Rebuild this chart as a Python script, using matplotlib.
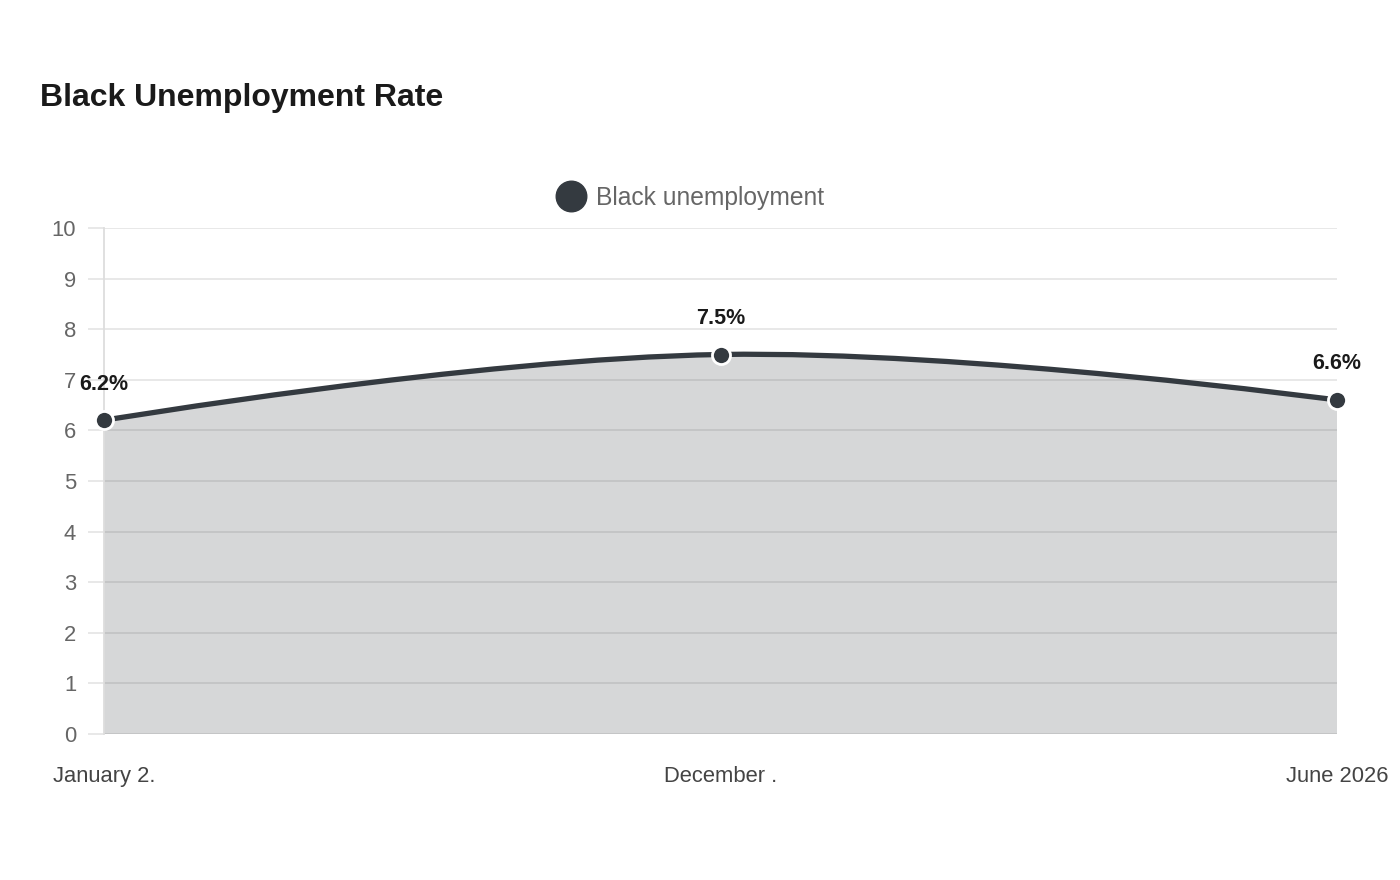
import matplotlib
matplotlib.use("Agg")
import matplotlib.pyplot as plt
from matplotlib.path import Path
from matplotlib.patches import PathPatch
from matplotlib.lines import Line2D

plt.rcParams["font.family"] = ["Liberation Sans", "DejaVu Sans"]

categories = ["January 2.", "December .", "June 2026"]
rates = [6.2, 7.5, 6.6]
series_name = "Black unemployment"
yticks = list(range(0, 11))

line_c = "#343a40"
grid_c = "#e6e6e6"
tick_c = "#666666"

fig = plt.figure(figsize=(14, 8.8), dpi=100)
ax = fig.add_axes([104 / 1400, 1 - 734 / 880, 1233 / 1400, 506 / 880])

xs = list(range(len(rates)))

# bezier curve like chart.js (tension 0.4)
tension = 0.4
verts = [(xs[0], rates[0])]
codes = [Path.MOVETO]
ctrl = []
for i in range(len(xs)):
    p = max(i - 1, 0)
    n = min(i + 1, len(xs) - 1)
    dx = xs[n] - xs[p]
    dy = rates[n] - rates[p]
    f = tension * 0.5 if 0 < i < len(xs) - 1 else 0
    ctrl.append(((xs[i] - f * dx, rates[i] - f * dy), (xs[i] + f * dx, rates[i] + f * dy)))
for i in range(1, len(xs)):
    verts += [ctrl[i - 1][1], ctrl[i][0], (xs[i], rates[i])]
    codes += [Path.CURVE4] * 3

curve = Path(verts, codes)
fill_path = Path(verts + [(xs[-1], 0), (xs[0], 0), (xs[0], rates[0])],
                 codes + [Path.LINETO, Path.LINETO, Path.CLOSEPOLY])
ax.add_patch(PathPatch(fill_path, facecolor=line_c, alpha=0.2, edgecolor="none", zorder=2))
ax.add_patch(PathPatch(curve, facecolor="none", edgecolor=line_c, lw=3.8,
                       capstyle="round", joinstyle="round", zorder=3))
ax.plot(xs, rates, "o", ms=13, mfc=line_c, mec="white", mew=2, zorder=4, clip_on=False)

for x, v in zip(xs, rates):
    ax.annotate(f"{v}%", (x, v), xytext=(0, 26), textcoords="offset points",
                ha="center", va="center", fontsize=15.5, fontweight="bold",
                color="#1a1a1a", annotation_clip=False)

ax.set_xlim(xs[0], xs[-1])
ax.set_ylim(0, 10)
ax.set_yticks(yticks)
ax.set_xticks(xs)
ax.set_xticklabels(categories)
ax.grid(axis="y", color=grid_c, lw=1.3, zorder=1)
ax.set_axisbelow(True)
for s in ["top", "right", "bottom"]:
    ax.spines[s].set_visible(False)
ax.spines["left"].set_color("#dddddd")
ax.spines["left"].set_linewidth(1.3)
ax.tick_params(axis="y", length=11.5, width=1.3, color=grid_c, pad=8.5,
               labelsize=15.8, labelcolor=tick_c)
ax.tick_params(axis="x", length=0, pad=23, labelsize=15.8, labelcolor="#444444")

fig.text(40 / 1400, 1 - 98 / 880, "Black Unemployment Rate", fontsize=23,
         fontweight="bold", color="#1a1a1a", va="center", ha="left")

handle = Line2D([], [], marker="o", ls="none", ms=22, mfc=line_c, mec=line_c)
fig.legend([handle], [series_name], loc="center", bbox_to_anchor=(690 / 1400, 1 - 198 / 880),
           frameon=False, fontsize=17.7, labelcolor=tick_c, handletextpad=0.4,
           handlelength=1.2)

fig.savefig("out.png", dpi=100, facecolor="white")
